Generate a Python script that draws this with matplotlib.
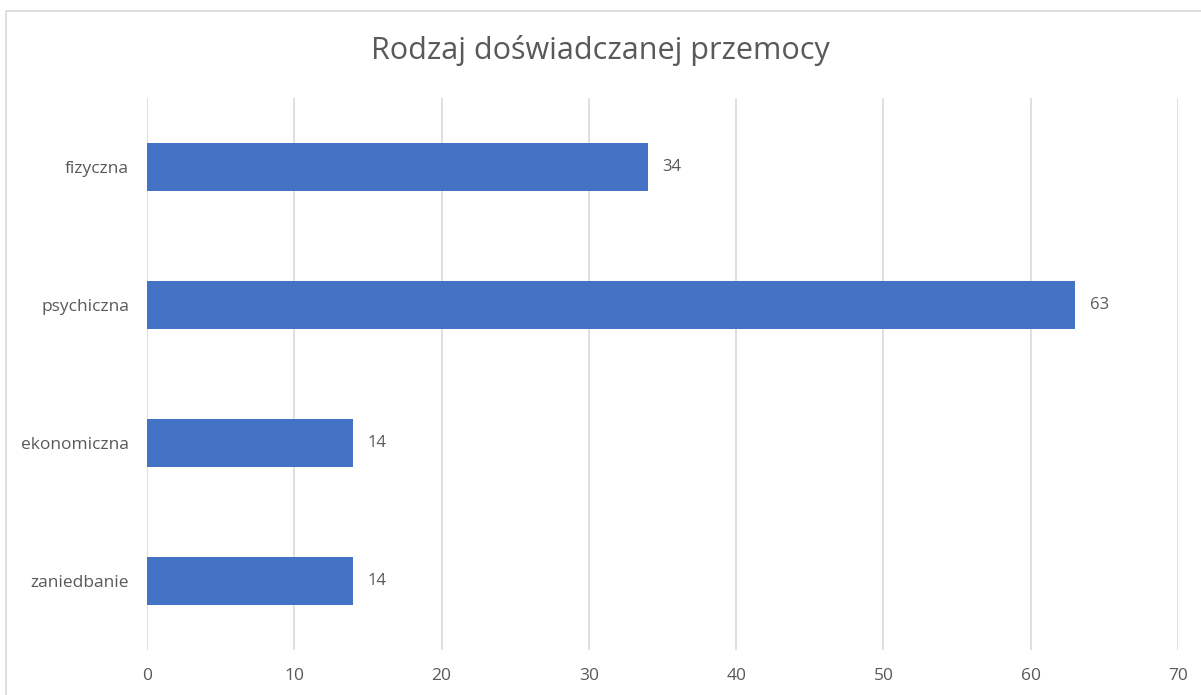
import matplotlib.pyplot as plt
from matplotlib.patches import Rectangle

categories = ["fizyczna", "psychiczna", "ekonomiczna", "zaniedbanie"]
values = [34, 63, 14, 14]
x_ticks = [0, 10, 20, 30, 40, 50, 60, 70]
title = "Rodzaj doświadczanej przemocy"

BAR_COLOR = "#4472C4"
TEXT_COLOR = "#595959"
GRID_COLOR = "#D9D9D9"

plt.rcParams['font.family'] = ['Open Sans', 'DejaVu Sans']

W, H = 1201, 695
fig = plt.figure(figsize=(W / 100, H / 100), dpi=100)

# outer chart border (only top and left visible in the crop)
fig.patches.append(Rectangle((6 / W, -0.1), 1.2, 1 - 11 / H + 0.1,
                             transform=fig.transFigure, fill=False,
                             edgecolor="#D9D9D9", linewidth=1.2))

ax = fig.add_axes([147 / W, 1 - 650 / H, (1178 - 147) / W, (650 - 98) / H])

pos = list(range(len(categories)))
ax.barh(pos, values, height=0.35, color=BAR_COLOR, zorder=3)
ax.set_ylim(len(categories) - 0.5, -0.5)
ax.set_xlim(0, 70)
ax.set_xticks(x_ticks)
ax.set_yticks(pos)
ax.set_yticklabels(categories)

for p, v in zip(pos, values):
    ax.text(v + 1.0, p, str(v), va="center", ha="left",
            fontsize=12, color=TEXT_COLOR)

ax.grid(axis="x", color=GRID_COLOR, linewidth=1.2, zorder=0)
for s in ax.spines.values():
    s.set_visible(False)
ax.tick_params(axis="both", length=0, labelsize=12.5, colors=TEXT_COLOR)
ax.tick_params(axis="x", pad=13)
ax.tick_params(axis="y", pad=13)

fig.text(0.5, 1 - 50 / H, title, ha="center", va="center",
         fontsize=22, color=TEXT_COLOR)

fig.savefig("out.png", dpi=100)
